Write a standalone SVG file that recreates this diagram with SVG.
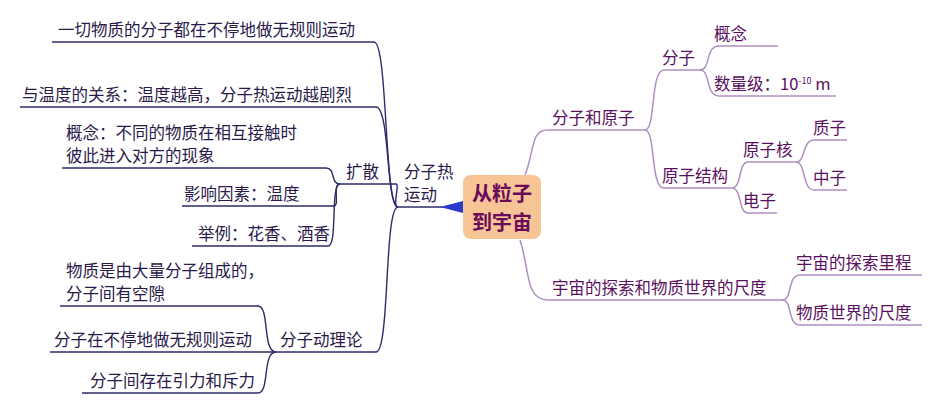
<svg xmlns="http://www.w3.org/2000/svg" width="932" height="415" viewBox="0 0 932 415">
<style>
text{font-family:"Noto Sans CJK SC","Liberation Sans",sans-serif;font-size:16.5px}
.l text{fill:#2a1a4a}
.r text{fill:#5a1060}
.cl{fill:none;stroke:#2c2c6a;stroke-width:1.4}
.cr{fill:none;stroke:#b090c0;stroke-width:1.5}
</style>
<rect width="932" height="415" fill="#fff"/>
<g id="connectors">
<path class="cl" d="M455 207 H398"/>
<path class="cl" d="M398 207 C384 207 388 42 374 42 H52"/>
<path class="cl" d="M398 207 C386 207 390 107 376 107 H20"/>
<path class="cl" d="M398 207 C392 207 400 184 396 184 H340"/>
<path class="cl" d="M398 207 C384 207 390 352 376 352 H276"/>
<path class="cl" d="M340 184 C330 184 336 168 326 168 H62"/>
<path class="cl" d="M340 184 C332 184 340 206 334 206 H182"/>
<path class="cl" d="M340 184 C330 184 338 246 328 246 H192"/>
<path class="cl" d="M276 352 C262 352 270 306 258 306 H60"/>
<path class="cl" d="M276 352 H50"/>
<path class="cl" d="M276 352 C262 352 270 393 258 393 H82"/>
<path d="M440 207 L463 201 L463 213 Z" fill="#2a3ac8"/>
<path class="cr" d="M525 175 C535 150 530 130 548 130 H645"/>
<path class="cr" d="M520 240 C530 270 525 300 548 300 H782"/>
<path class="cr" d="M645 130 C656 130 650 70 664 70 H700"/>
<path class="cr" d="M645 130 C656 130 650 188 664 188 H732"/>
<path class="cr" d="M700 70 C711 70 705 46 719 46 H778"/>
<path class="cr" d="M700 70 C711 70 705 96 719 96 H836"/>
<path class="cr" d="M732 188 C742 188 738 162 748 162 H796"/>
<path class="cr" d="M732 188 C742 188 738 213 748 213 H777"/>
<path class="cr" d="M796 162 C806 162 802 140 814 140 H847"/>
<path class="cr" d="M796 162 C806 162 802 190 814 190 H847"/>
<path class="cr" d="M782 300 C793 300 787 275 800 275 H922"/>
<path class="cr" d="M782 300 C793 300 787 325 800 325 H922"/>
</g>
<g id="center"><rect x="463" y="175" width="78" height="64" rx="8" fill="#f7c496"/>
<text x="502" y="201" text-anchor="middle" style="font-size:20px;font-weight:bold;fill:#6a0a5a">从粒子</text>
<text x="502" y="230" text-anchor="middle" style="font-size:20px;font-weight:bold;fill:#6a0a5a">到宇宙</text></g>
<g class="l">
<g id="n-thermal"><text x="404" y="178">分子热</text><text x="404" y="201">运动</text></g>
<g id="n-l1"><text x="58" y="36">一切物质的分子都在不停地做无规则运动</text></g>
<g id="n-l2"><text x="22" y="101">与温度的关系：温度越高，分子热运动越剧烈</text></g>
<g id="n-diff"><text x="346" y="178">扩散</text></g>
<g id="n-d1"><text x="66" y="139">概念：不同的物质在相互接触时</text><text x="66" y="162">彼此进入对方的现象</text></g>
<g id="n-d2"><text x="184" y="200">影响因素：温度</text></g>
<g id="n-d3"><text x="198" y="240">举例：花香、酒香</text></g>
<g id="n-kin"><text x="280" y="346">分子动理论</text></g>
<g id="n-k1"><text x="66" y="277">物质是由大量分子组成的，</text><text x="66" y="300">分子间有空隙</text></g>
<g id="n-k2"><text x="54" y="346">分子在不停地做无规则运动</text></g>
<g id="n-k3"><text x="90" y="387">分子间存在引力和斥力</text></g>
</g>
<g class="r">
<g id="n-ma"><text x="552" y="124">分子和原子</text></g>
<g id="n-m"><text x="662" y="64">分子</text></g>
<g id="n-m1"><text x="714" y="40">概念</text></g>
<g id="n-m2"><text x="714" y="90">数量级：10<tspan dy="-6" style="font-size:9px">-10</tspan><tspan dy="6"> m</tspan></text></g>
<g id="n-as"><text x="662" y="182">原子结构</text></g>
<g id="n-nuc"><text x="743" y="156">原子核</text></g>
<g id="n-e"><text x="743" y="207">电子</text></g>
<g id="n-p"><text x="813" y="134">质子</text></g>
<g id="n-n"><text x="813" y="184">中子</text></g>
<g id="n-u"><text x="552" y="294">宇宙的探索和物质世界的尺度</text></g>
<g id="n-u1"><text x="796" y="269">宇宙的探索里程</text></g>
<g id="n-u2"><text x="796" y="319">物质世界的尺度</text></g>
</g>
</svg>
